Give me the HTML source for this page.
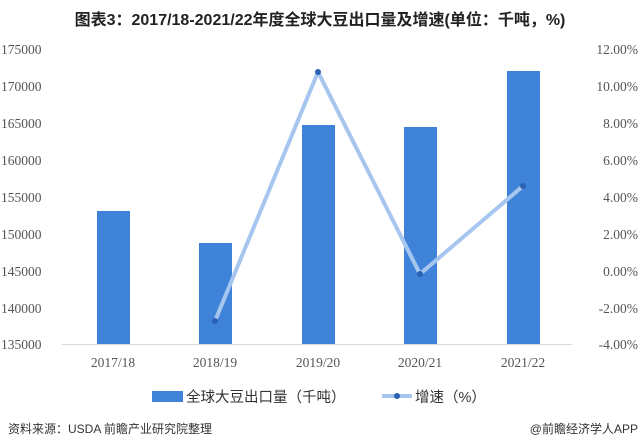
<!DOCTYPE html>
<html><head><meta charset="utf-8"><style>
body{margin:0;width:640px;height:447px;background:#fff;overflow:hidden}
svg{display:block}
</style></head><body>
<svg width="640" height="447" xmlns="http://www.w3.org/2000/svg">
<text x="320" y="25" text-anchor="middle" font-family="Liberation Sans, Noto Sans CJK SC, sans-serif" font-size="16" font-weight="bold" fill="#222">图表3：2017/18-2021/22年度全球大豆出口量及增速(单位：千吨，%)</text>
<g font-family="Liberation Serif, serif" font-size="13.5" fill="#555">
<text x="1" y="54">175000</text><text x="1" y="91">170000</text><text x="1" y="128">165000</text><text x="1" y="165">160000</text><text x="1" y="202">155000</text><text x="1" y="239">150000</text><text x="1" y="276">145000</text><text x="1" y="313">140000</text><text x="1" y="349">135000</text>
<g text-anchor="end">
<text x="638" y="54">12.00%</text><text x="638" y="91">10.00%</text><text x="638" y="128">8.00%</text><text x="638" y="165">6.00%</text><text x="638" y="202">4.00%</text><text x="638" y="239">2.00%</text><text x="638" y="276">0.00%</text><text x="638" y="313">-2.00%</text><text x="638" y="349">-4.00%</text>
</g>
<g text-anchor="middle">
<text x="113" y="367">2017/18</text><text x="215" y="367">2018/19</text><text x="318" y="367">2019/20</text><text x="420" y="367">2020/21</text><text x="523" y="367">2021/22</text>
</g>
</g>
<line x1="62" y1="344.5" x2="572" y2="344.5" stroke="#d9d9d9" stroke-width="1"/>
<g fill="#3f83d8">
<rect x="97" y="211" width="33" height="133"/>
<rect x="199" y="243" width="33" height="101"/>
<rect x="302" y="125" width="33" height="219"/>
<rect x="404" y="127" width="33" height="217"/>
<rect x="507" y="71" width="33" height="273"/>
</g>
<polyline points="215,321 318,72 420,274 523,186" fill="none" stroke="#a6c6ef" stroke-width="4" stroke-linejoin="round"/>
<g fill="#2a62b3"><circle cx="215" cy="321" r="3"/><circle cx="318" cy="72" r="3"/><circle cx="420" cy="274" r="3"/><circle cx="523" cy="186" r="3"/></g>
<rect x="152" y="391" width="31" height="11" fill="#3f83d8"/>
<text x="186" y="402" font-family="Liberation Sans, Noto Sans CJK SC, sans-serif" font-size="14.5" fill="#333">全球大豆出口量（千吨）</text>
<line x1="382" y1="396" x2="412" y2="396" stroke="#a6c6ef" stroke-width="4"/>
<circle cx="397" cy="396" r="3" fill="#2a62b3"/>
<text x="415" y="402" font-family="Liberation Sans, Noto Sans CJK SC, sans-serif" font-size="14.5" fill="#333">增速（%）</text>
<text x="8" y="433" font-family="Liberation Sans, Noto Sans CJK SC, sans-serif" font-size="12" fill="#333">资料来源：USDA 前瞻产业研究院整理</text>
<text x="638" y="433" text-anchor="end" font-family="Liberation Sans, Noto Sans CJK SC, sans-serif" font-size="12" fill="#333">@前瞻经济学人APP</text>
</svg>
</body></html>
